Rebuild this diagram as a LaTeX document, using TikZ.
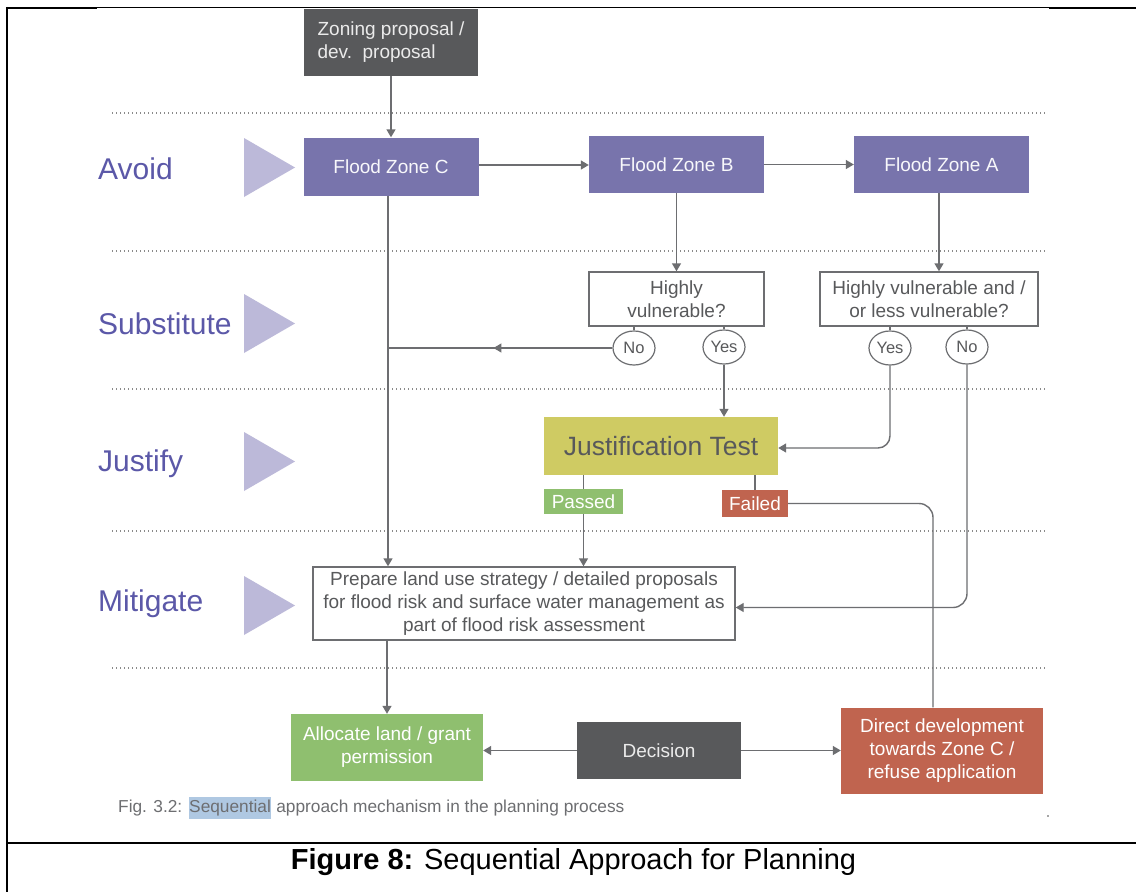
\documentclass[tikz,border=0pt]{standalone}
\usepackage{fontspec}
\setmainfont{Liberation Sans}
\usetikzlibrary{arrows.meta,decorations.markings,calc,shapes.geometric}
\definecolor{purp}{HTML}{7874AC}
\definecolor{labc}{HTML}{5B58A8}
\definecolor{tric}{HTML}{BCB9D9}
\definecolor{dgray}{HTML}{58595B}
\definecolor{olive}{HTML}{CFCB63}
\definecolor{grn}{HTML}{8FBF6F}
\definecolor{rd}{HTML}{C0644F}
\definecolor{linec}{HTML}{6D6E71}
\definecolor{txtc}{HTML}{58595B}
\definecolor{dotc}{HTML}{8A8A8A}
\definecolor{capc}{HTML}{6D6E71}
\definecolor{hl}{HTML}{AFC8E2}
\newcommand\fnode{\fontsize{19bp}{23bp}\selectfont}
\newcommand\fyn{\fontsize{16.5bp}{19bp}\selectfont}
\newcommand\fjt{\fontsize{26.5bp}{30bp}\selectfont}
\newcommand\flab{\fontsize{30bp}{34bp}\selectfont}
\newcommand\fcap{\fontsize{17.3bp}{21bp}\selectfont}
\newcommand\ffig{\fontsize{29bp}{33bp}\selectfont}
\begin{document}
\begin{tikzpicture}[x=1bp,y=-1bp,
  conn/.style={draw=linec, line width=1.4bp},
  arr/.style={conn, -{Triangle[length=8bp,width=9bp]}},
  box/.style={rectangle, inner sep=0pt, align=center, font=\fnode},
  darkbox/.style={box, fill=dgray, text=white!92!black},
  zonebox/.style={box, fill=purp, text=white!95!purp, minimum width=175bp, minimum height=57bp},
  qbox/.style={box, draw=linec, line width=1.4bp, fill=white, text=txtc, minimum height=54bp},
  yn/.style={ellipse, draw=linec, line width=1.2bp, fill=white, inner sep=0pt, minimum width=42bp, minimum height=34bp, font=\fyn, text=txtc},
  tag/.style={box, text=white},
  lab/.style={anchor=west, inner sep=0pt, font=\flab, text=labc},
  sep/.style={draw=dotc, line width=1.3bp, dash pattern=on 1.2bp off 2.8bp},
  tri/.style={fill=tric},
  frame/.style={draw=black}
]
\useasboundingbox (0,0) rectangle (1136,892);
\fill[white] (0,0) rectangle (1136,892);

% frame
\draw[frame, line width=1.5bp] (6,7.6) -- (1136,7.6);
\draw[frame, line width=2.2bp] (6,7.8) -- (97,7.8);
\draw[frame, line width=2.4bp] (1049,8) -- (1136,8);
\draw[frame, line width=1.7bp] (6.7,6.8) -- (6.7,892);
\draw[frame, line width=2.4bp] (6,843) -- (1136,843);

% dotted separators
\foreach \yy in {113,251,389,531,668} {
  \draw[sep] (112,\yy) -- (1048,\yy);
}

% stage labels and triangles
\node[lab] (lavoid) at (98,169) {Avoid};
\node[lab] (lsub) at (98,324) {Substitute};
\node[lab] (ljust) at (98,464) {Justify};
\node[lab] (lmit) at (98,604) {Mitigate};
\fill[tri] (244,138) -- (295,167.5) -- (244,197) -- cycle;
\fill[tri] (244,294) -- (295,323.5) -- (244,353) -- cycle;
\fill[tri] (244,432) -- (295,461.5) -- (244,491) -- cycle;
\fill[tri] (244,576) -- (295,605.5) -- (244,635) -- cycle;

% nodes
\node[darkbox, align=left, minimum width=174bp, minimum height=67bp] (zon) at (391,42.5) {Zoning proposal /\\dev.\ \ proposal};
\node[zonebox, minimum height=58bp] (fzc) at (391,166.5) {Flood Zone C};
\node[zonebox] (fzb) at (676.5,164.5) {Flood Zone B};
\node[zonebox] (fza) at (941.5,164.5) {Flood Zone A};
\node[qbox, minimum width=175bp] (hv1) at (676.5,299) {Highly\\vulnerable?};
\node[qbox, minimum width=218bp] (hv2) at (929,299) {Highly vulnerable and /\\or less vulnerable?};
\node[yn] (no1) at (634,348) {No};
\node[yn] (yes1) at (724,347) {Yes};
\node[yn] (yes2) at (890,348) {Yes};
\node[yn] (no2) at (967,347) {No};
\node[box, fill=olive, text=txtc, font=\fjt, minimum width=234bp, minimum height=58bp] (jt) at (661,446) {Justification Test};
\node[tag, fill=grn, minimum width=79bp, minimum height=25bp] (passed) at (583.5,501.5) {Passed};
\node[tag, fill=rd, minimum width=66bp, minimum height=27bp] (failed) at (755,503.5) {Failed};
\node[qbox, minimum width=422bp, minimum height=73bp] (prep) at (524,603.5) {Prepare land use strategy / detailed proposals\\for flood risk and surface water management as\\part of flood risk assessment};
\node[box, fill=grn, text=white, minimum width=192bp, minimum height=67bp] (alloc) at (387,747.5) {Allocate land / grant\\permission};
\node[darkbox, minimum width=164bp, minimum height=57bp] (dec) at (659,750.5) {Decision};
\node[box, fill=rd, text=white, minimum width=202bp, minimum height=86bp] (direct) at (942,750.5) {Direct development\\towards Zone C /\\refuse application};

\coordinate (cx) at (388,0);
\coordinate (ax) at (939,0);

% connectors
\draw[arr] (zon.south) -- (fzc.north);
\draw[arr] ($(fzc.east)+(0,-1.5)$) -- ($(fzc.east -| fzb.west)+(0,-1.5)$);
\draw[arr] (fzb.east) -- (fzb.east -| fza.west);
\draw[arr] (fzb.south) -- (hv1.north);
\draw[arr] (fza.south -| ax) -- (hv2.north -| ax);
\draw[conn] (hv1.south -| no1.north) -- (no1.north);
\draw[conn] (hv1.south -| yes1.north) -- (yes1.north);
\draw[conn] (hv2.south -| yes2.north) -- (yes2.north);
\draw[conn] (hv2.south -| no2.north) -- (no2.north);
\draw[arr] (fzc.south -| cx) -- (prep.north -| cx);
\draw[conn, postaction={decorate}, decoration={markings, mark=at position 0.53 with {\arrow{Triangle[length=8bp,width=9bp]}}}] (no1.west) -- (no1.west -| cx);
\draw[arr] (yes1.south) -- (yes1.south |- jt.north);
\draw[arr, rounded corners=12bp] (yes2.south) |- ($(jt.east)+(0,2)$);
\draw[arr, rounded corners=14bp] (no2.south) |- ($(prep.east)+(0,4)$);
\draw[conn] (jt.south -| passed.north) -- (passed.north);
\draw[conn] (jt.south -| failed.north) -- (failed.north);
\draw[arr] (passed.south) -- (passed.south |- prep.north);
\draw[conn, rounded corners=14bp] (failed.east) -| ($(direct.north)+(-9,0)$);
\draw[arr] (alloc.north |- prep.south) -- (alloc.north);
\draw[arr] (dec.west) -- (dec.west -| alloc.east);
\draw[arr] (dec.east) -- (dec.east -| direct.west);

% captions
\node[anchor=west, inner sep=0pt, font=\fcap, text=capc] (figcap) at (118,808) {Fig. 3.2: {\setlength{\fboxsep}{0.5bp}\colorbox{hl}{\strut Sequential}} approach mechanism in the planning process};
\fill[gray!70] (1047,814.5) rectangle (1049,816.5);
\node[inner sep=0pt, font=\ffig, text=black] (fig8) at (573.5,862) {\textbf{Figure 8:} Sequential Approach for Planning};
\end{tikzpicture}
\end{document}
